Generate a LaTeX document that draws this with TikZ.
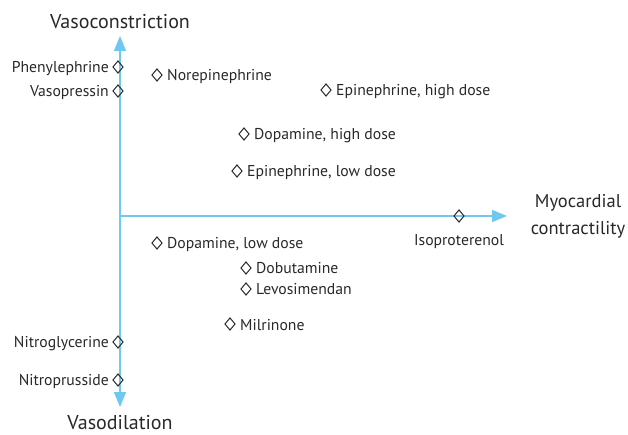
\documentclass[tikz,border=0pt]{standalone}
\usepackage{fontspec}
\setmainfont{PT Sans}
\usetikzlibrary{shapes.geometric,arrows.meta}
\definecolor{axisblue}{RGB}{110,200,240}
\definecolor{txt}{RGB}{40,40,40}
\begin{document}
\begin{tikzpicture}[x=1pt,y=-1pt,
  dmd/.style={diamond,draw=txt,line width=1pt,inner sep=0pt,minimum width=10.5pt,minimum height=12.5pt},
  lbl/.style={text=txt,font=\fontsize{15.7}{18}\selectfont,inner sep=0pt},
  ttl/.style={text=txt,font=\fontsize{20}{24}\selectfont,inner sep=0pt,align=center},
  axis/.style={draw=axisblue,line width=1.3pt,-{Triangle[length=15pt,width=12pt,fill=axisblue]}}]
\useasboundingbox (0,0) rectangle (628,435);
\coordinate (o) at (120,216);
\coordinate (top) at (120,36);
\coordinate (bot) at (120,407);
\coordinate (right) at (507,216);
\draw[axis] (o) -- (top);
\draw[axis] (o) -- (bot);
\draw[axis] (o) -- (right);
\node[ttl] (vc) at (120,22) {Vasoconstriction};
\node[ttl] (vd) at (120,423) {Vasodilation};
\node[ttl,font=\fontsize{18.5}{27}\selectfont] (mc) at (578,216) {Myocardial\\contractility};
% left-labelled
\node[dmd] (phe) at (118,67) {};
\node[lbl,anchor=mid east] (phel) at (109,70) {Phenylephrine};
\node[dmd] (vas) at (118,91) {};
\node[lbl,anchor=mid east] (vasl) at (109,94) {Vasopressin};
\node[dmd] (ntg) at (118,342) {};
\node[lbl,anchor=mid east] (ntgl) at (109,345) {Nitroglycerine};
\node[dmd] (ntp) at (118,380) {};
\node[lbl,anchor=mid east] (ntpl) at (109,383) {Nitroprusside};
% right-labelled
\node[dmd] (nor) at (157,75) {};
\node[lbl,anchor=mid west] (norl) at (167,78) {Norepinephrine};
\node[dmd] (eph) at (326,90) {};
\node[lbl,anchor=mid west] (ephl) at (336,93) {Epinephrine, high dose};
\node[dmd] (dph) at (244,134) {};
\node[lbl,anchor=mid west] (dphl) at (254,137) {Dopamine, high dose};
\node[dmd] (epl) at (237,171) {};
\node[lbl,anchor=mid west] (epll) at (247,174) {Epinephrine, low dose};
\node[dmd] (dpl) at (157,243) {};
\node[lbl,anchor=mid west] (dpll) at (167,246.5) {Dopamine, low dose};
\node[dmd] (dob) at (246,268) {};
\node[lbl,anchor=mid west] (dobl) at (256,271) {Dobutamine};
\node[dmd] (lev) at (246,289) {};
\node[lbl,anchor=mid west] (levl) at (256,292) {Levosimendan};
\node[dmd] (mil) at (230,324) {};
\node[lbl,anchor=mid west] (mill) at (240,327.5) {Milrinone};
\node[dmd] (iso) at (459,216) {};
\node[lbl,anchor=mid] (isol) at (459,243) {Isoproterenol};
\end{tikzpicture}
\end{document}
